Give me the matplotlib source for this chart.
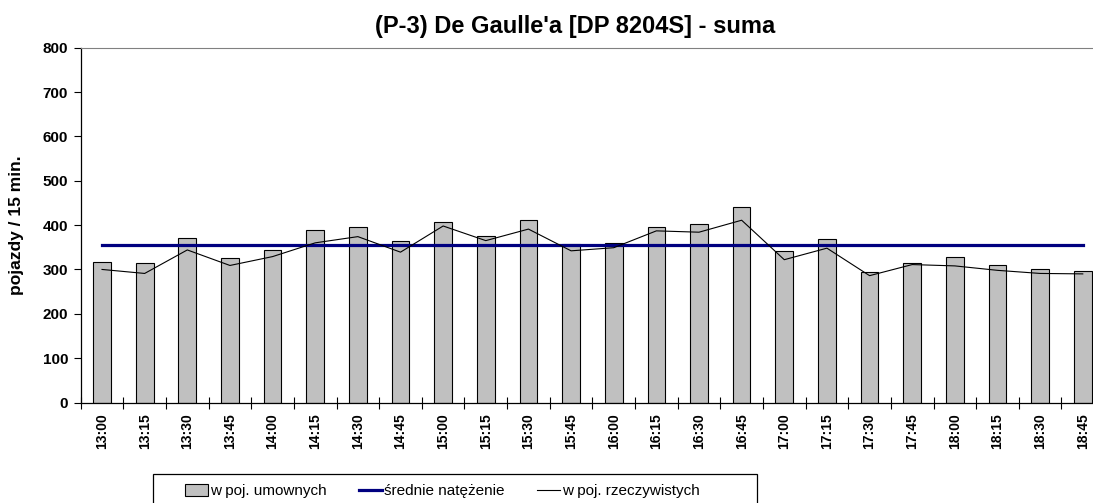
import numpy as np
import matplotlib.pyplot as plt
from matplotlib.lines import Line2D
from matplotlib.patches import Patch, Rectangle

plt.rcParams['font.family'] = ['Liberation Sans', 'DejaVu Sans']

# intervals (15 min)
times = ['13:00', '13:15', '13:30', '13:45', '14:00', '14:15', '14:30', '14:45',
         '15:00', '15:15', '15:30', '15:45', '16:00', '16:15', '16:30', '16:45',
         '17:00', '17:15', '17:30', '17:45', '18:00', '18:15', '18:30', '18:45']
# w poj. umownych (bars)
umowne = [316, 314, 370, 325, 343, 390, 395, 365, 408, 375, 411, 357,
          360, 395, 402, 440, 341, 369, 294, 314, 329, 309, 300, 297]
# w poj. rzeczywistych (thin line)
rzeczywiste = [300, 291, 344, 309, 329, 360, 374, 339, 398, 365, 391, 342,
               349, 387, 384, 411, 322, 348, 286, 311, 308, 298, 291, 290]
# srednie natezenie
srednia = 356

W, H = 1093, 503
fig = plt.figure(figsize=(W / 100, H / 100), dpi=100)
# plot area runs a little past the right edge of the image, as in the original
ax = fig.add_axes([80.7 / W, 1 - 402.5 / H, 1023.4 / W, 354.8 / H])

x = np.arange(len(times))
ax.bar(x, umowne, width=0.415, color='#c0c0c0', edgecolor='black', linewidth=0.8, zorder=2)
ax.plot(x, [srednia] * len(x), color='#000080', linewidth=2.3, zorder=3)
ax.plot(x, rzeczywiste, color='black', linewidth=0.8, zorder=4)

ax.set_xlim(-0.5, len(times) - 0.5)
ax.set_ylim(0, 800)
ax.set_yticks(range(0, 801, 100))
ax.set_xticks(x)
ax.set_xticklabels(times, rotation=90, fontweight='bold', fontsize=10)
ax.set_xticks(np.arange(-0.5, len(times)), minor=True)
ax.tick_params(axis='x', which='major', length=0, pad=8)
ax.tick_params(axis='x', which='minor', direction='inout', length=9, width=0.8)
ax.tick_params(axis='y', direction='out', length=5, width=0.8, pad=4)
for lab in ax.get_yticklabels():
    lab.set_fontweight('bold')
    lab.set_fontsize(11)

ax.spines['right'].set_visible(False)
ax.spines['top'].set_color('#808080')
ax.spines['left'].set_linewidth(0.9)
ax.spines['bottom'].set_linewidth(0.9)

ax.set_ylabel('pojazdy / 15 min.', fontweight='bold', fontsize=12.5)
ax.yaxis.set_label_coords((24 - 80.7) / 1023.4, 0.5)
fig.text(575 / W, 1 - 27 / H, "(P-3) De Gaulle'a [DP 8204S] - suma",
         ha='center', va='center', fontsize=17, fontweight='bold')

# legend: entries without frame, frame drawn separately
handles = [Patch(facecolor='#c0c0c0', edgecolor='black', linewidth=0.8),
           Line2D([], [], color='#000080', linewidth=2.3),
           Line2D([], [], color='black', linewidth=0.8)]
labels = ['w poj. umownych', 'średnie natężenie', 'w poj. rzeczywistych']
fig.legend(handles, labels, ncol=3, loc='center left',
           bbox_to_anchor=(185 / W, 1 - 491 / H), frameon=False,
           fontsize=11, handlelength=1.5, handleheight=0.8, handletextpad=0.15,
           columnspacing=2.1, borderaxespad=0, borderpad=0)
fig.patches.append(Rectangle((153 / W, -0.05), (757 - 153) / W, 0.05 + (H - 474) / H,
                             transform=fig.transFigure, fill=False,
                             edgecolor='black', linewidth=0.9))

fig.savefig('out.png', dpi=100)
